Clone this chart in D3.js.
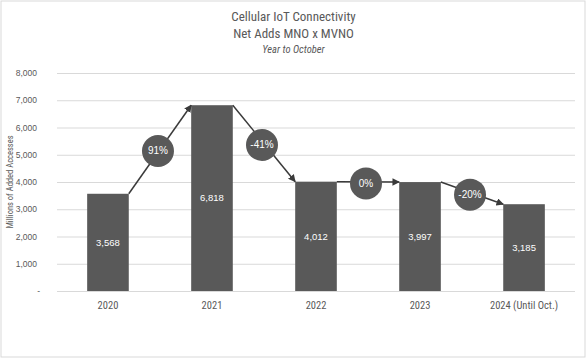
<!DOCTYPE html>
<html><head><meta charset="utf-8">
<script src="https://cdn.jsdelivr.net/npm/d3@7"></script>
<style>body{margin:0;background:#fff}</style>
</head><body>
<svg id="c" width="587" height="358"></svg>
<script>
const categories = ["2020","2021","2022","2023","2024 (Until Oct.)"];
const values = [3568, 6818, 4012, 3997, 3185];
const changes = ["91%","-41%","0%","-20%"];
const yTicks = [0,1000,2000,3000,4000,5000,6000,7000,8000];
const titleLines = ["Cellular IoT Connectivity","Net Adds MNO x MVNO"];
const subtitle = "Year to October";
const yTitle = "Millions of Added Accesses";

const svg = d3.select("#c");
const narrow = "'Liberation Sans Narrow','Roboto Condensed','Arial Narrow',sans-serif";
const sans = "'Liberation Sans',Arial,sans-serif";
const grey = "#595959";

svg.append("rect").attr("x",1).attr("y",1).attr("width",584).attr("height",356)
  .attr("fill","#fff").attr("stroke","#d9d9d9").attr("stroke-width",1);

const x = d3.scaleBand().domain(categories).range([57,575]).paddingInner(0.6).paddingOuter(0.29);
const y = d3.scaleLinear().domain([0,8000]).range([291,73]);

// gridlines
svg.append("g").selectAll("line").data(yTicks).join("line")
  .attr("x1",57).attr("x2",575).attr("y1",d=>y(d)+0.5).attr("y2",d=>y(d)+0.5)
  .attr("stroke","#d9d9d9").attr("stroke-width",1);

// y axis labels
const fmt = d3.format(",");
const yAxis = d3.axisLeft(y).tickValues(yTicks).tickSize(0).tickPadding(0)
  .tickFormat(d=> d===0 ? "-" : fmt(d));
const ya = svg.append("g").attr("transform","translate(37,0)").call(yAxis);
ya.select(".domain").remove();
ya.selectAll("text").attr("font-family",sans).attr("font-size",8.5).attr("fill",grey)
  .attr("dx", d=> d===0 ? 3 : 0);

// x axis labels
const xAxis = d3.axisBottom(x).tickSize(0).tickPadding(11);
const xa = svg.append("g").attr("transform","translate(0,291)").call(xAxis);
xa.select(".domain").remove();
xa.selectAll("text").attr("font-family",narrow).attr("font-size",10.5).attr("fill",grey);

// bars
svg.append("g").selectAll("rect").data(values).join("rect")
  .attr("x",(d,i)=>x(categories[i])).attr("width",x.bandwidth())
  .attr("y",d=>y(d)).attr("height",d=>y(0)-y(d)).attr("fill",grey);

// bar labels
svg.append("g").selectAll("text").data(values).join("text")
  .attr("x",(d,i)=>x(categories[i])+x.bandwidth()/2)
  .attr("y",d=>(y(d)+y(0))/2).attr("dy","0.35em")
  .attr("text-anchor","middle").attr("font-family",sans).attr("font-size",9.5)
  .attr("fill","#fff").text(d=>fmt(d));

// arrow marker
svg.append("defs").append("marker").attr("id","ah").attr("viewBox","0 0 10 10")
  .attr("refX",9).attr("refY",5).attr("markerWidth",5).attr("markerHeight",5)
  .attr("orient","auto").append("path").attr("d","M0,0L10,5L0,10z").attr("fill","#3a3a3a");

const arrows = changes.map((c,i)=>({
  x1: x(categories[i])+x.bandwidth(), y1: y(values[i]),
  x2: x(categories[i+1]), y2: y(values[i+1]), label: c}));

svg.append("g").selectAll("line").data(arrows).join("line")
  .attr("x1",d=>d.x1).attr("y1",d=>d.y1).attr("x2",d=>d.x2).attr("y2",d=>d.y2)
  .attr("stroke","#3a3a3a").attr("stroke-width",1.5).attr("marker-end","url(#ah)");

const bub = svg.append("g").selectAll("g").data(arrows).join("g")
  .attr("transform",d=>`translate(${(d.x1+d.x2)/2-2},${(d.y1+d.y2)/2+1.5})`);
bub.append("circle").attr("r",16).attr("fill",grey);
bub.append("text").attr("text-anchor","middle").attr("dy","0.35em")
  .attr("font-family",sans).attr("font-size",10).attr("fill","#fff").text(d=>d.label);

// titles
svg.append("g").selectAll("text").data(titleLines).join("text")
  .attr("x",293.5).attr("y",(d,i)=>21+i*17).attr("text-anchor","middle")
  .attr("font-family",narrow).attr("font-size",13).attr("fill",grey).text(d=>d);
svg.append("text").attr("x",293.5).attr("y",53).attr("text-anchor","middle")
  .attr("font-family",narrow).attr("font-size",10.5).attr("font-style","italic")
  .attr("fill",grey).text(subtitle);

// y title
svg.append("text").attr("transform","translate(13,182) rotate(-90)")
  .attr("text-anchor","middle").attr("font-family",narrow).attr("font-size",8.5)
  .attr("fill",grey).text(yTitle);
</script>
</body></html>
